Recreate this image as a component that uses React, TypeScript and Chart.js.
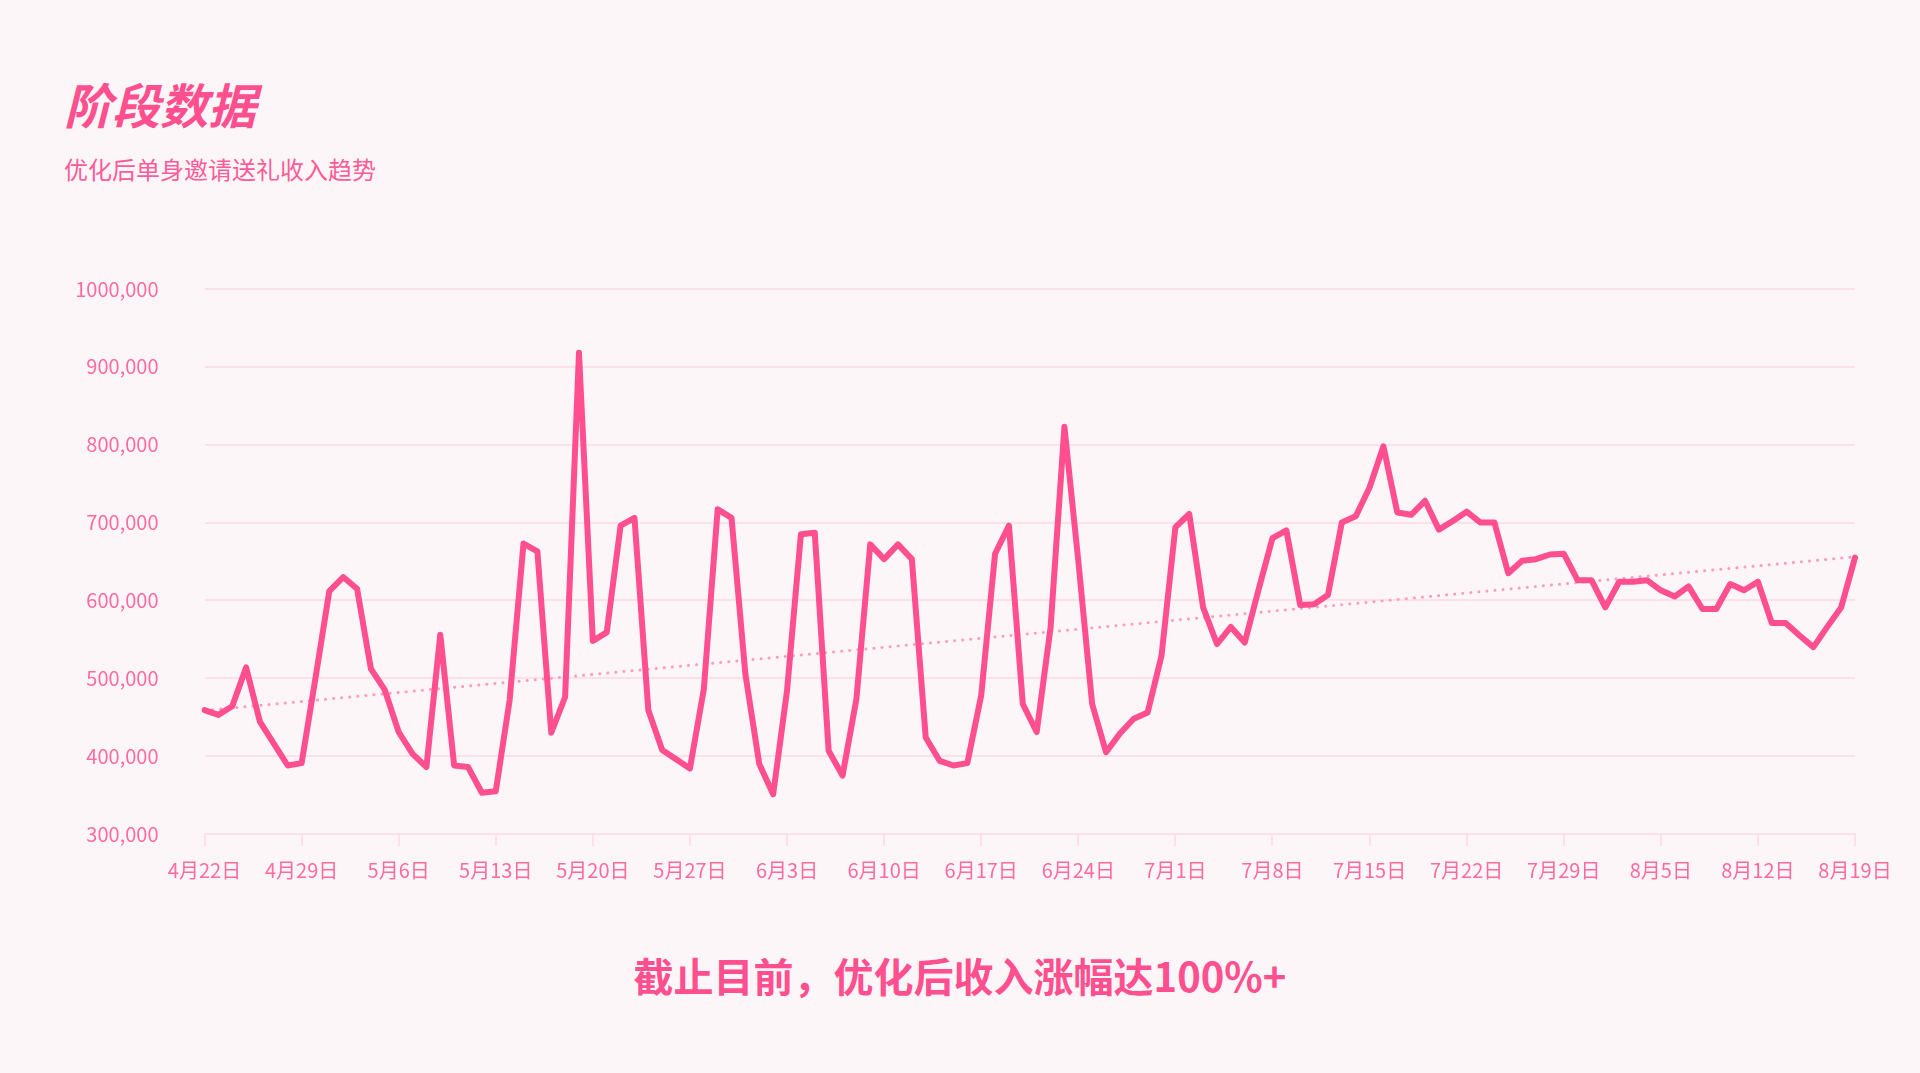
import React, { useEffect, useRef } from 'react';
import Chart from 'chart.js/auto';

// daily categories: [month, first day, last day]
const monthRanges = [
  [4, 22, 30],
  [5, 1, 31],
  [6, 1, 30],
  [7, 1, 31],
  [8, 1, 19],
];
const dateLabels = monthRanges.flatMap(([m, from, to]) =>
  Array.from({ length: to - from + 1 }, (_, i) => `${m}月${from + i}日`)
);

// 单身邀请送礼收入 (daily)
const revenue = [
  459000, 453000, 464000, 514000, 444000, 416000, 388000, 391000, 500000, 612000,
  630000, 615000, 512000, 485000, 431000, 403000, 386000, 556000, 388000, 386000,
  353000, 355000, 472000, 673000, 663000, 430000, 476000, 918000, 548000, 559000,
  696000, 706000, 459000, 408000, 396000, 384000, 486000, 717000, 706000, 505000,
  390000, 351000, 484000, 685000, 687000, 407000, 375000, 473000, 672000, 653000,
  672000, 653000, 424000, 394000, 388000, 391000, 478000, 660000, 696000, 467000,
  431000, 565000, 823000, 651000, 467000, 405000, 429000, 448000, 456000, 529000,
  694000, 711000, 591000, 544000, 566000, 546000, 614000, 680000, 690000, 594000,
  595000, 607000, 700000, 708000, 745000, 798000, 713000, 710000, 728000, 691000,
  702000, 714000, 700000, 700000, 635000, 651000, 653000, 659000, 660000, 626000,
  626000, 591000, 624000, 624000, 626000, 613000, 605000, 618000, 589000, 589000,
  621000, 613000, 624000, 571000, 571000, 555000, 540000, 566000, 591000, 655000,
];

// dotted trend line, value at first and last day
const trendEnds = [458500, 656000];

const yTickValues = [300000, 400000, 500000, 600000, 700000, 800000, 900000, 1000000];
const yTickLabels = ['300,000', '400,000', '500,000', '600,000', '700,000', '800,000', '900,000', '1000,000'];

const PINK = '#ff4f8e';
const GRID = '#fce0ea';
const FONT = '"Noto Sans CJK SC", "Noto Sans", sans-serif';

function TrendChart() {
  const chartRef = useRef<HTMLCanvasElement>(null);

  useEffect(() => {
    if (!chartRef.current) return;

    const trend = dateLabels.map((_, i) =>
      i === 0 ? trendEnds[0] : i === dateLabels.length - 1 ? trendEnds[1] : null
    );

    const myChart = new Chart(chartRef.current, {
      type: 'line',
      data: {
        labels: dateLabels,
        datasets: [
          {
            label: '收入',
            data: revenue,
            borderColor: PINK,
            borderWidth: 6,
            borderJoinStyle: 'round',
            borderCapStyle: 'round',
            pointRadius: 0,
            tension: 0,
            fill: false,
          },
          {
            label: '趋势',
            data: trend,
            borderColor: '#ff9cc0',
            borderWidth: 3,
            borderDash: [0.1, 8],
            borderCapStyle: 'round',
            pointRadius: 0,
            spanGaps: true,
            fill: false,
          },
        ],
      },
      options: {
        animation: false,
        responsive: true,
        maintainAspectRatio: false,
        layout: { padding: { top: 0, right: 65, bottom: 0, left: 0 } },
        plugins: {
          legend: { display: false },
          tooltip: { enabled: false },
        },
        scales: {
          x: {
            grid: {
              drawOnChartArea: false,
              drawTicks: true,
              tickLength: 12,
              lineWidth: 2,
              color: (ctx: any) => (ctx.index % 7 === 0 ? GRID : 'rgba(0,0,0,0)'),
            },
            border: { display: true, color: GRID, width: 2 },
            ticks: {
              autoSkip: false,
              maxRotation: 0,
              minRotation: 0,
              padding: 12,
              color: '#ff6a9f',
              font: { family: FONT, size: 20 },
              callback: (_v: any, idx: number) => (idx % 7 === 0 ? dateLabels[idx] : ''),
            },
            afterFit: (scale: any) => {
              scale.height = 60;
            },
          },
          y: {
            min: yTickValues[0],
            max: yTickValues[yTickValues.length - 1],
            grid: { color: GRID, lineWidth: 2, drawTicks: false },
            border: { display: false },
            ticks: {
              stepSize: 100000,
              padding: 46,
              color: '#ff6a9f',
              font: { family: FONT, size: 20 },
              callback: (v: any) => {
                const i = yTickValues.indexOf(Number(v));
                return i >= 0 ? yTickLabels[i] : '';
              },
            },
            afterFit: (scale: any) => {
              scale.width = 144.5;
            },
          },
        },
      },
    });

    return () => {
      myChart.destroy();
    };
  }, []);

  return (
    <div style={{ position: 'absolute', left: 60, top: 231, width: 1860, height: 663 }}>
      <canvas ref={chartRef}></canvas>
    </div>
  );
}

export default function App() {
  return (
    <div
      style={{
        position: 'fixed',
        inset: 0,
        background: '#fdf6f9',
        fontFamily: FONT,
        overflow: 'hidden',
      }}
    >
      <div
        style={{
          position: 'absolute',
          left: 64,
          top: 79,
          fontSize: 48,
          lineHeight: '48px',
          fontWeight: 700,
          fontStyle: 'italic',
          color: PINK,
          whiteSpace: 'nowrap',
        }}
      >
        阶段数据
      </div>
      <div
        style={{
          position: 'absolute',
          left: 64,
          top: 157,
          fontSize: 24,
          lineHeight: '24px',
          color: '#ff5c97',
          whiteSpace: 'nowrap',
        }}
      >
        优化后单身邀请送礼收入趋势
      </div>
      <TrendChart />
      <div
        style={{
          position: 'absolute',
          left: 0,
          width: 1920,
          top: 953,
          textAlign: 'center',
          fontSize: 40,
          lineHeight: '44px',
          fontWeight: 700,
          color: PINK,
          whiteSpace: 'nowrap',
        }}
      >
        截止目前，优化后收入涨幅达100%+
      </div>
    </div>
  );
}
